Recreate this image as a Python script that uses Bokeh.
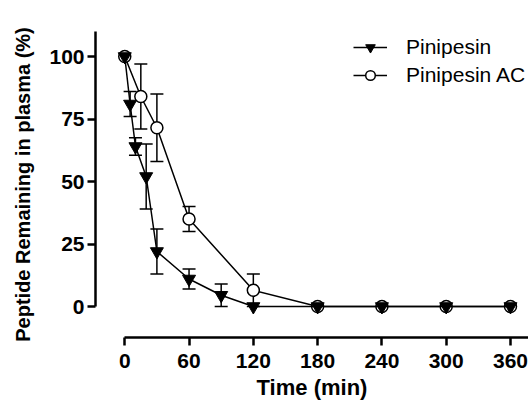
from bokeh.plotting import figure
from bokeh.models import Range1d, Whisker, TeeHead, ColumnDataSource, Legend, LegendItem, FixedTicker
from bokeh.embed import file_html
from bokeh.resources import INLINE

# Data
time_pin = [0, 5, 10, 20, 30, 60, 90, 120, 180, 240, 300, 360]
pin_mean = [100, 81, 64, 52, 22, 11, 4.5, 0, 0, 0, 0, 0]
pin_sd = [0, 5, 3.5, 13, 9, 4, 4.5, 0, 0, 0, 0, 0]

time_ac = [0, 15, 30, 60, 120, 180, 240, 300, 360]
ac_mean = [100, 84, 71.5, 35, 6.5, 0, 0, 0, 0]
ac_sd = [0, 13, 13.5, 5, 6.5, 0, 0, 0, 0]

x_ticks = [0, 60, 120, 180, 240, 300, 360]
y_ticks = [0, 25, 50, 75, 100]

FONT = "Liberation Sans"

p = figure(width=528, height=405, output_backend="svg", toolbar_location=None,
           x_range=Range1d(-27.3, 376.8), y_range=Range1d(-12.4, 110),
           min_border_left=95, min_border_top=31, min_border_bottom=68, min_border_right=0)
p.outline_line_color = None
p.grid.visible = False
p.background_fill_color = "white"

for ax in (p.xaxis[0], p.yaxis[0]):
    ax.axis_line_width = 2.5
    ax.axis_line_color = "black"
    ax.major_tick_line_width = 2.5
    ax.major_tick_line_color = "black"
    ax.major_tick_in = 0
    ax.major_tick_out = 8
    ax.minor_tick_line_color = None
    ax.major_label_text_font = FONT
    ax.major_label_text_font_style = "bold"
    ax.major_label_text_font_size = "21px"
    ax.major_label_text_color = "black"
    ax.axis_label_text_font = FONT
    ax.axis_label_text_font_style = "bold"
    ax.axis_label_text_color = "black"

p.xaxis.axis_label_text_font_size = "22px"
p.yaxis.axis_label_text_font_size = "20px"
p.xaxis.ticker = FixedTicker(ticks=x_ticks)
p.yaxis.ticker = FixedTicker(ticks=y_ticks)
p.xaxis.bounds = (0, 380)
p.yaxis.bounds = (0, 110)
p.xaxis.axis_label = "Time (min)"
p.yaxis.axis_label = "Peptide Remaining in plasma (%)"
p.xaxis.major_label_standoff = 8
p.xaxis.axis_label_standoff = 4
p.yaxis.major_label_standoff = 3
p.yaxis.axis_label_standoff = 12

# Pinipesin AC (open circles)
ac_src = ColumnDataSource(dict(t=time_ac, m=ac_mean))
ac_err = [(t, m - s, m + s) for t, m, s in zip(time_ac, ac_mean, ac_sd) if s > 0]
ac_err_src = ColumnDataSource(dict(t=[e[0] for e in ac_err], lo=[e[1] for e in ac_err], hi=[e[2] for e in ac_err]))
l_ac = p.line("t", "m", source=ac_src, line_color="black", line_width=1.5)
p.add_layout(Whisker(base="t", lower="lo", upper="hi", source=ac_err_src,
                     line_color="black", line_width=1.5,
                     upper_head=TeeHead(size=13, line_color="black", line_width=1.5),
                     lower_head=TeeHead(size=13, line_color="black", line_width=1.5)))
s_ac = p.scatter("t", "m", source=ac_src, marker="circle", size=12,
                 fill_color="white", line_color="black", line_width=1.5)

# Pinipesin (filled inverted triangles)
pin_src = ColumnDataSource(dict(t=time_pin, m=pin_mean))
pin_err = [(t, m - s, m + s) for t, m, s in zip(time_pin, pin_mean, pin_sd) if s > 0]
pin_err_src = ColumnDataSource(dict(t=[e[0] for e in pin_err], lo=[e[1] for e in pin_err], hi=[e[2] for e in pin_err]))
l_pin = p.line("t", "m", source=pin_src, line_color="black", line_width=1.5)
p.add_layout(Whisker(base="t", lower="lo", upper="hi", source=pin_err_src,
                     line_color="black", line_width=1.5,
                     upper_head=TeeHead(size=13, line_color="black", line_width=1.5),
                     lower_head=TeeHead(size=13, line_color="black", line_width=1.5)))
s_pin = p.scatter("t", "m", source=pin_src, marker="inverted_triangle", size=13,
                  fill_color="black", line_color="black", line_width=1)

legend = Legend(items=[LegendItem(label="Pinipesin", renderers=[l_pin, s_pin]),
                       LegendItem(label="Pinipesin AC", renderers=[l_ac, s_ac])],
                location=(258, 250))
legend.border_line_color = None
legend.background_fill_alpha = 0
legend.padding = 0
legend.margin = 0
legend.spacing = 4
legend.glyph_width = 34
legend.glyph_height = 24
legend.label_height = 24
legend.label_standoff = 19
legend.label_text_font = FONT
legend.label_text_font_size = "21px"
legend.label_text_color = "black"
p.add_layout(legend)

open("out.html", "w").write(file_html(p, INLINE))
